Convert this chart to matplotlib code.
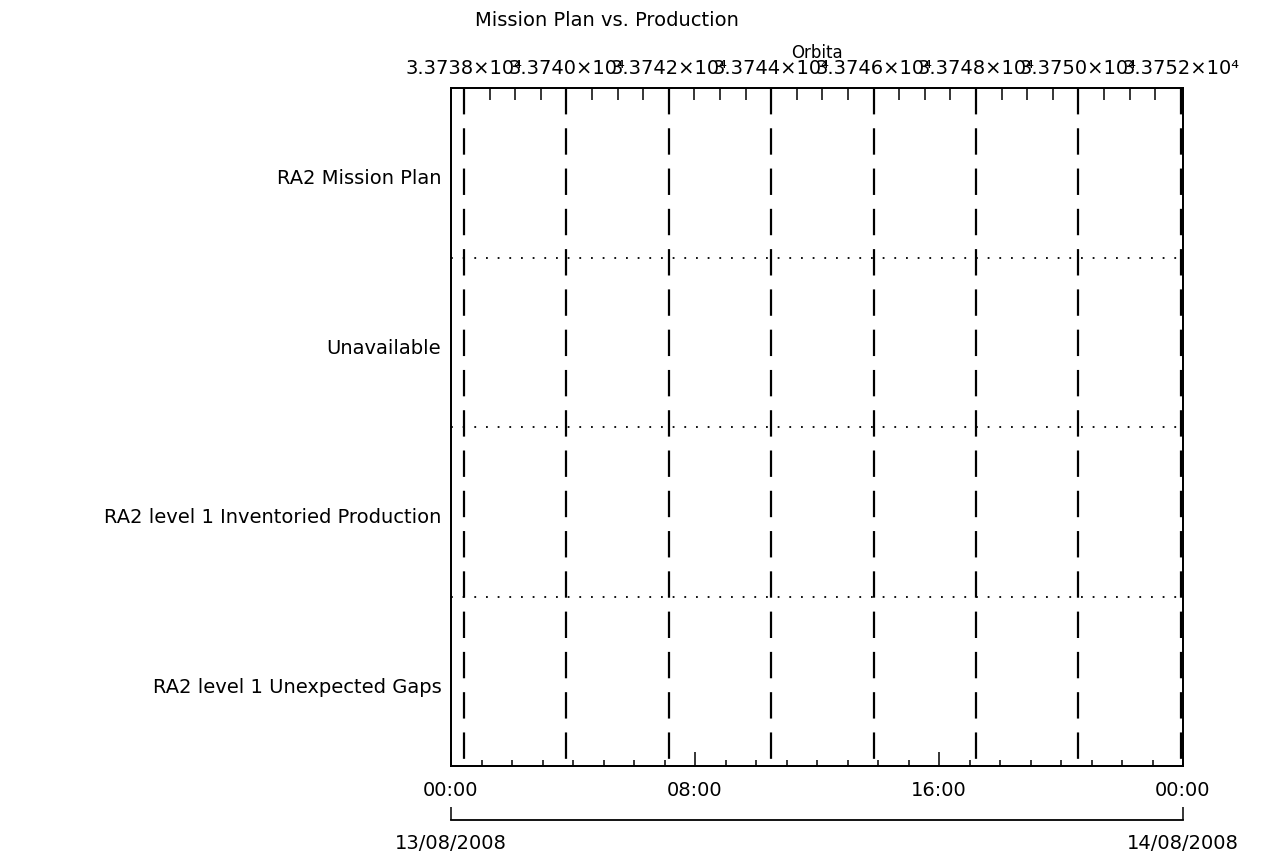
import matplotlib
matplotlib.use("Agg")
import matplotlib.pyplot as plt
import matplotlib.transforms as mtransforms

plt.rcParams['font.family'] = ['DejaVu Sans']
plt.rcParams['lines.scale_dashes'] = False

# ---- data ----
title = "Mission Plan vs. Production"
categories = ["RA2 Mission Plan", "Unavailable",
              "RA2 level 1 Inventoried Production", "RA2 level 1 Unexpected Gaps"]
hours_range = [0, 24]
time_ticks = [0, 8, 16, 24]
time_labels = ["00:00", "08:00", "16:00", "00:00"]
date_ticks = [0, 24]
date_labels = ["13/08/2008", "14/08/2008"]
orbit_range = [33737.746, 33752.043]
orbit_ticks = [33738, 33740, 33742, 33744, 33746, 33748, 33750, 33752]
orbit_label = "Orbita"

W, H = 1271, 866
fig = plt.figure(figsize=(W / 100, H / 100), dpi=100)
L, R, T, B = 451, 1183, 88, 766
ax = fig.add_axes([L / W, 1 - B / H, (R - L) / W, (B - T) / H])

n = len(categories)
ax.set_xlim(*hours_range)
ax.set_ylim(0, n)

# bottom time axis
ax.set_xticks(time_ticks)
ax.set_xticklabels(time_labels, fontsize=14)
ax.set_xticks(range(hours_range[0], hours_range[1] + 1), minor=True)
ax.tick_params(axis='x', which='major', direction='in', length=10, width=1.1, pad=11, top=False)
ax.tick_params(axis='x', which='minor', direction='in', length=4.5, width=1.1, top=False)

# category labels
ax.set_yticks([n - 0.5 - i for i in range(n)])
ax.set_yticklabels(categories, fontsize=14)
ax.tick_params(axis='y', which='both', length=0, pad=7)
shift = mtransforms.ScaledTranslation(0, -4 / 100, fig.dpi_scale_trans)
for lab in ax.get_yticklabels():
    lab.set_transform(lab.get_transform() + shift)

for s in ax.spines.values():
    s.set_linewidth(1.3)
    s.set_color('black')

# dotted row separators
for k in range(1, n):
    ax.axhline(k, color='black', lw=1.3, linestyle=(0, (1.3, 7.1)))

# top orbit axis
ax2 = ax.twiny()
ax2.set_xlim(*orbit_range)
ax2.set_xticks(orbit_ticks)
ax2.set_xticklabels([f"{o / 1e4:.4f}\u00d710\u2074" for o in orbit_ticks], fontsize=14)
minor_orbits = [o + 0.5 * j for o in orbit_ticks[:-1] for j in range(1, 4)]
ax2.set_xticks(minor_orbits, minor=True)
ax2.tick_params(axis='x', which='both', direction='in', length=8.5, width=1.1, pad=7)
ax2.set_xlabel(orbit_label, fontsize=12, labelpad=1)
for s in ax2.spines.values():
    s.set_linewidth(1.3)

# dashed vertical orbit lines
for o in orbit_ticks:
    ax2.plot([o, o], [n, 0], color='black', lw=1.6, linestyle=(0, (19, 10)))

# date bracket
sec = ax.secondary_xaxis(-0.0796)
sec.set_xticks(date_ticks)
sec.set_xticklabels(date_labels, fontsize=14)
sec.tick_params(axis='x', direction='in', length=9.5, width=1.1, pad=10)
sec.spines['bottom'].set_linewidth(1.3)

fig.text(475 / W, 1 - 20 / H, title, fontsize=14, ha='left', va='center')

fig.savefig("out.png", dpi=100)
